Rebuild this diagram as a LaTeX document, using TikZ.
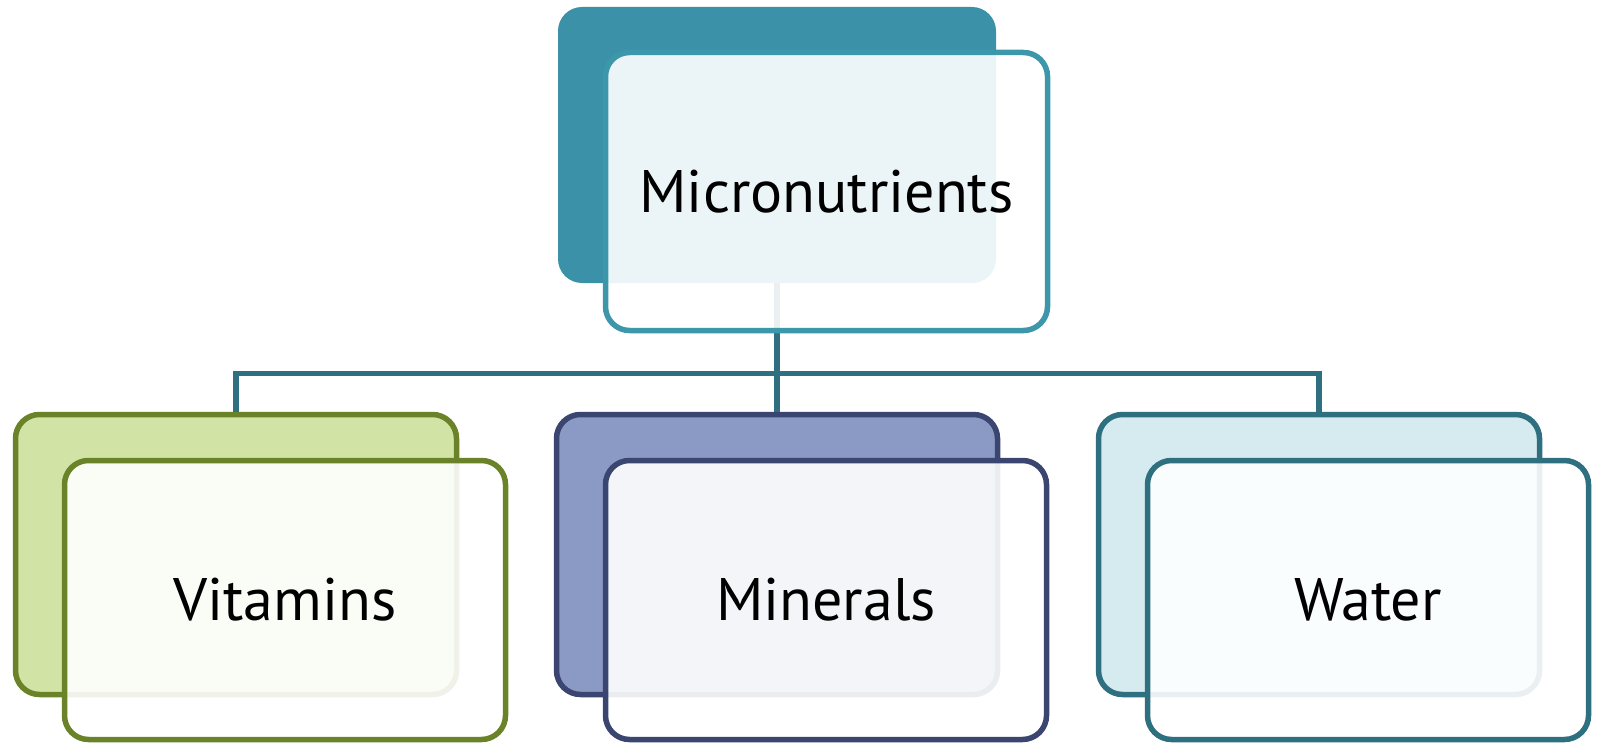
\documentclass[tikz,border=0pt]{standalone}
\usepackage{fontspec}
\setmainfont{PT Sans}
\definecolor{topfill}{HTML}{3B91A7}
\definecolor{topline}{HTML}{3D97AB}
\definecolor{linkc}{HTML}{2E7080}
\definecolor{greenline}{HTML}{6A8228}
\definecolor{greenfill}{HTML}{D1E4A6}
\definecolor{navyline}{HTML}{3A4670}
\definecolor{navyfill}{HTML}{8A9AC4}
\definecolor{tealline}{HTML}{2E7080}
\definecolor{tealfill}{HTML}{D5EBF0}
\tikzset{
  backcard/.style={rectangle, rounded corners=24pt, line width=5.5pt,
    minimum width=441pt, minimum height=280pt, inner sep=0pt},
  frontcard/.style={rectangle, rounded corners=24pt, line width=5.5pt,
    minimum width=441pt, minimum height=279pt, inner sep=0pt,
    fill=white, fill opacity=0.9, text opacity=1,
    font=\fontsize{60}{60}\selectfont},
  link/.style={line width=5.5pt, draw=linkc, line join=miter}
}
\begin{document}
\begin{tikzpicture}[x=1pt,y=-1pt]
\useasboundingbox (0,0) rectangle (1597,743);

% back cards
\node[rectangle, rounded corners=24pt, fill=topfill, minimum width=438pt,
      minimum height=276pt, inner sep=0pt] (topB) at (777,145) {};
\node[backcard, draw=greenline, fill=greenfill] (vitB) at (236,554.5) {};
\node[backcard, draw=navyline, fill=navyfill] (minB) at (777,554.5) {};
\node[backcard, draw=tealline, fill=tealfill] (watB) at (1319,554.5) {};

% tree connectors
\coordinate (bar) at (0,373.5);
\draw[link] (topB.south) -- (minB.north);
\draw[link] (vitB.north) -- (vitB.north |- bar) -- (watB.north |- bar) -- (watB.north);

% front cards with labels
\node[frontcard, draw=topline, minimum width=442pt, minimum height=278pt] (topF) at (826.5,191.5) {Micronutrients};
\node[frontcard, draw=greenline] (vitF) at (285,600) {Vitamins};
\node[frontcard, draw=navyline] (minF) at (826,600) {Minerals};
\node[frontcard, draw=tealline] (watF) at (1368,600) {Water};
\end{tikzpicture}
\end{document}
